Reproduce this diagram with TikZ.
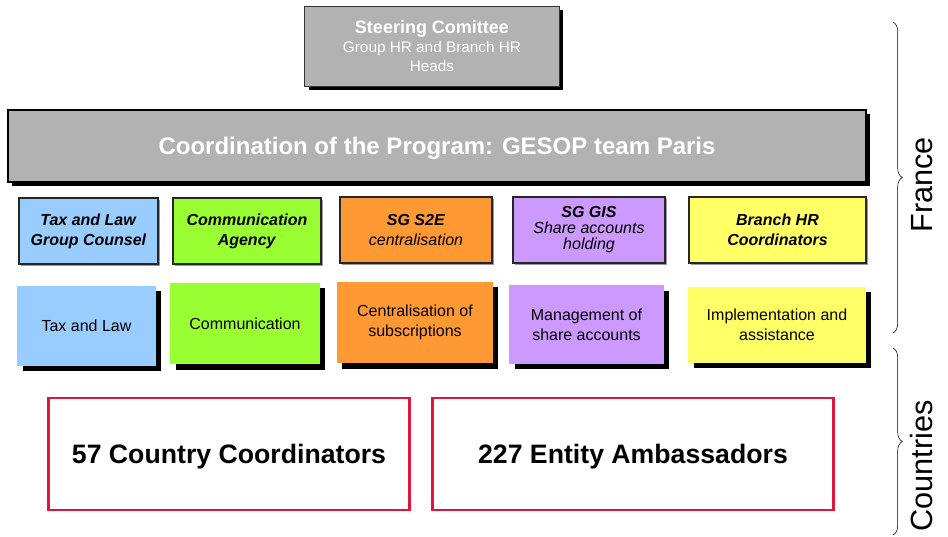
\documentclass[tikz,border=0pt]{standalone}
\usepackage{fontspec}
\setmainfont{Liberation Sans}
\usetikzlibrary{positioning,shadows,decorations.pathreplacing}
\definecolor{boxgray}{RGB}{178,178,178}
\definecolor{taxblue}{RGB}{153,204,255}
\definecolor{commgreen}{RGB}{153,255,51}
\definecolor{s2eorange}{RGB}{255,153,51}
\definecolor{gispurple}{RGB}{204,153,255}
\definecolor{hryellow}{RGB}{255,255,102}
\definecolor{ctyred}{RGB}{224,20,60}
\tikzset{
    headbox/.style={rectangle, draw=black!80, fill=boxgray, text=white, align=center,
                    inner sep=0pt,
                    drop shadow={shadow xshift=3pt, shadow yshift=-3pt, fill=black, opacity=1}},
    teambox/.style={rectangle, draw=black!85, line width=1.4pt, fill=#1, align=center,
                    inner sep=0pt, minimum height=49.5pt, font=\fontsize{12}{15}\selectfont,
                    drop shadow={shadow xshift=1.5pt, shadow yshift=-1.5pt, fill=black!40, opacity=1}},
    taskbox/.style={rectangle, fill=#1, align=center, inner sep=0pt,
                    font=\fontsize{12}{15}\selectfont,
                    drop shadow={shadow xshift=4pt, shadow yshift=-4pt, fill=black, opacity=1}},
    ctybox/.style={rectangle, draw=ctyred, line width=2.2pt, fill=white, align=center,
                   inner sep=0pt, minimum height=84pt, text depth=0pt,
                   font=\bfseries\fontsize{20}{22}\selectfont},
    side/.style={rotate=90, font=\fontsize{23}{26}\selectfont},
    bracket/.style={decorate, decoration={brace, amplitude=7pt}, thin},
}
\begin{document}
\begin{tikzpicture}[x=0.75pt, y=-0.75pt]
    \useasboundingbox (0,0) rectangle (948,536);

    % Top of the organisation
    \node [headbox, minimum width=191pt, minimum height=60pt,
           font=\fontsize{11.5}{14.5}\selectfont] (steer) at (432,46)
        {\textbf{\fontsize{13.5}{15}\selectfont Steering Comittee}\\
         Group HR and Branch HR\\Heads};
    \node [headbox, draw=black, line width=1.4pt, minimum width=643pt, minimum height=54pt,
           text depth=0pt, font=\bfseries\fontsize{18}{20}\selectfont] (coord) at (437,146)
        {Coordination of the Program: GESOP team Paris};

    % Teams
    \node [teambox=taxblue,   minimum width=104pt] (taxteam)  at (88.5,231)
        {\textbf{\textit{Tax and Law}}\\\textbf{\textit{Group Counsel}}};
    \node [teambox=commgreen, minimum width=111pt] (commteam) at (247,231)
        {\textbf{\textit{Communication}}\\\textbf{\textit{Agency}}};
    \node [teambox=s2eorange, minimum width=114pt] (s2eteam)  at (416,230)
        {\textbf{\textit{SG S2E}}\\\textit{centralisation}};
    \node [teambox=gispurple, minimum width=114pt] (gisteam)  at (589,230)
        {\textbf{\textit{SG GIS}}\\[-3pt]\textit{Share accounts}\\[-3pt]\textit{holding}};
    \node [teambox=hryellow,  minimum width=133pt] (hrteam)   at (777.5,230)
        {\textbf{\textit{Branch HR}}\\\textbf{\textit{Coordinators}}};

    % Tasks
    \node [taskbox=taxblue,   minimum width=104pt, minimum height=60pt] (taxtask)  at (86.5,326)  {Tax and Law};
    \node [taskbox=commgreen, minimum width=112pt, minimum height=61pt] (commtask) at (245,323.5)  {Communication};
    \node [taskbox=s2eorange, minimum width=117pt, minimum height=61pt] (s2etask)  at (415,322.5)  {Centralisation of\\subscriptions};
    \node [taskbox=gispurple, minimum width=116pt, minimum height=59pt] (gistask)  at (586.5,324.5) {Management of\\share accounts};
    \node [taskbox=hryellow,  minimum width=133pt, minimum height=57pt] (hrtask)   at (777,325)    {Implementation and\\assistance};

    % Countries
    \node [ctybox, minimum width=271pt] (cc)  at (229,454) {57 Country Coordinators};
    \node [ctybox, minimum width=301pt] (amb) at (633,454) {227 Entity Ambassadors};

    % Side braces
    \coordinate (frtop) at (893,22);
    \coordinate (frbot) at (893,333);
    \coordinate (cotop) at (893,348);
    \coordinate (cobot) at (893,535);
    \draw [bracket] (frtop) -- (frbot);
    \draw [bracket] (cotop) -- (cobot);
    \node [side] (france)    at (922,185) {France};
    \node [side] (countries) at (922,466) {Countries};
\end{tikzpicture}
\end{document}
